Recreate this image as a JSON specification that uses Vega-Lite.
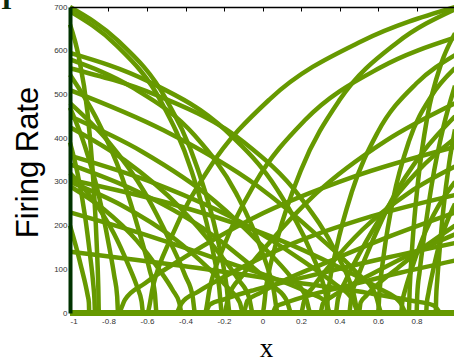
{
"$schema":"https://vega.github.io/schema/vega-lite/v6.json",
"width":385,"height":306,
"autosize":{"type":"none"},
"padding":{"left":70,"top":7,"right":0,"bottom":48},
"background":"white",
"config":{"view":{"stroke":"black","strokeWidth":1},"font":"Liberation Sans"},
"title":{"text":"I","anchor":"end","frame":"group","orient":"left","angle":0,"align":"left","font":"Liberation Serif","fontSize":28,"fontWeight":"bold","color":"#0a2a0a","baseline":"alphabetic","dy":2,"offset":0},
"data":{"values":[
{"c":"L1","x":1,"y":0},{"c":"L1","x":-0.17,"y":0},{"c":"L1","x":-0.187,"y":63},{"c":"L1","x":-0.236,"y":175},{"c":"L1","x":-0.336,"y":329},{"c":"L1","x":-0.502,"y":490},{"c":"L1","x":-0.751,"y":623},{"c":"L1","x":-1,"y":700},
{"c":"L2","x":1,"y":0},{"c":"L2","x":-0.21,"y":0},{"c":"L2","x":-0.226,"y":62},{"c":"L2","x":-0.273,"y":173},{"c":"L2","x":-0.368,"y":324},{"c":"L2","x":-0.526,"y":483},{"c":"L2","x":-0.763,"y":614},{"c":"L2","x":-1,"y":690},
{"c":"L3","x":1,"y":0},{"c":"L3","x":-0.85,"y":0},{"c":"L3","x":-0.853,"y":59},{"c":"L3","x":-0.862,"y":165},{"c":"L3","x":-0.88,"y":310},{"c":"L3","x":-0.91,"y":462},{"c":"L3","x":-0.955,"y":587},{"c":"L3","x":-1,"y":660},
{"c":"L4","x":1,"y":0},{"c":"L4","x":0.35,"y":0},{"c":"L4","x":0.323,"y":54},{"c":"L4","x":0.242,"y":149},{"c":"L4","x":0.08,"y":280},{"c":"L4","x":-0.19,"y":417},{"c":"L4","x":-0.595,"y":530},{"c":"L4","x":-1,"y":595},
{"c":"L5","x":1,"y":0},{"c":"L5","x":0.08,"y":0},{"c":"L5","x":0.058,"y":52},{"c":"L5","x":-0.006,"y":145},{"c":"L5","x":-0.136,"y":273},{"c":"L5","x":-0.352,"y":406},{"c":"L5","x":-0.676,"y":516},{"c":"L5","x":-1,"y":580},
{"c":"L6","x":1,"y":0},{"c":"L6","x":0.5,"y":0},{"c":"L6","x":0.47,"y":50},{"c":"L6","x":0.38,"y":140},{"c":"L6","x":0.2,"y":263},{"c":"L6","x":-0.1,"y":392},{"c":"L6","x":-0.55,"y":498},{"c":"L6","x":-1,"y":560},
{"c":"L7","x":1,"y":0},{"c":"L7","x":-0.55,"y":0},{"c":"L7","x":-0.559,"y":44},{"c":"L7","x":-0.586,"y":98},{"c":"L7","x":-0.64,"y":185},{"c":"L7","x":-0.73,"y":311},{"c":"L7","x":-0.865,"y":447},{"c":"L7","x":-1,"y":545},
{"c":"L8","x":1,"y":0},{"c":"L8","x":0.62,"y":0},{"c":"L8","x":0.588,"y":41},{"c":"L8","x":0.49,"y":92},{"c":"L8","x":0.296,"y":173},{"c":"L8","x":-0.028,"y":291},{"c":"L8","x":-0.514,"y":418},{"c":"L8","x":-1,"y":510},
{"c":"L9","x":1,"y":0},{"c":"L9","x":-0.35,"y":0},{"c":"L9","x":-0.363,"y":38},{"c":"L9","x":-0.402,"y":86},{"c":"L9","x":-0.48,"y":163},{"c":"L9","x":-0.61,"y":274},{"c":"L9","x":-0.805,"y":394},{"c":"L9","x":-1,"y":480},
{"c":"L10","x":1,"y":0},{"c":"L10","x":0.25,"y":0},{"c":"L10","x":0.225,"y":36},{"c":"L10","x":0.15,"y":81},{"c":"L10","x":0,"y":153},{"c":"L10","x":-0.25,"y":257},{"c":"L10","x":-0.625,"y":369},{"c":"L10","x":-1,"y":450},
{"c":"L11","x":1,"y":0},{"c":"L11","x":-0.05,"y":0},{"c":"L11","x":-0.069,"y":34},{"c":"L11","x":-0.126,"y":77},{"c":"L11","x":-0.24,"y":145},{"c":"L11","x":-0.43,"y":242},{"c":"L11","x":-0.715,"y":349},{"c":"L11","x":-1,"y":425},
{"c":"L12","x":1,"y":0},{"c":"L12","x":-0.87,"y":0},{"c":"L12","x":-0.873,"y":31},{"c":"L12","x":-0.88,"y":70},{"c":"L12","x":-0.896,"y":133},{"c":"L12","x":-0.922,"y":222},{"c":"L12","x":-0.961,"y":320},{"c":"L12","x":-1,"y":390},
{"c":"L13","x":1,"y":0},{"c":"L13","x":0.5,"y":0},{"c":"L13","x":0.47,"y":29},{"c":"L13","x":0.38,"y":65},{"c":"L13","x":0.2,"y":122},{"c":"L13","x":-0.1,"y":205},{"c":"L13","x":-0.55,"y":295},{"c":"L13","x":-1,"y":360},
{"c":"L14","x":1,"y":0},{"c":"L14","x":0.15,"y":0},{"c":"L14","x":0.127,"y":27},{"c":"L14","x":0.058,"y":61},{"c":"L14","x":-0.08,"y":116},{"c":"L14","x":-0.31,"y":194},{"c":"L14","x":-0.655,"y":279},{"c":"L14","x":-1,"y":340},
{"c":"L15","x":1,"y":0},{"c":"L15","x":-0.62,"y":0},{"c":"L15","x":-0.628,"y":26},{"c":"L15","x":-0.65,"y":58},{"c":"L15","x":-0.696,"y":109},{"c":"L15","x":-0.772,"y":182},{"c":"L15","x":-0.886,"y":262},{"c":"L15","x":-1,"y":320},
{"c":"L16","x":1,"y":0},{"c":"L16","x":0.75,"y":0},{"c":"L16","x":0.715,"y":24},{"c":"L16","x":0.61,"y":55},{"c":"L16","x":0.4,"y":104},{"c":"L16","x":0.05,"y":174},{"c":"L16","x":-0.475,"y":250},{"c":"L16","x":-1,"y":305},
{"c":"L17","x":1,"y":0},{"c":"L17","x":-0.42,"y":0},{"c":"L17","x":-0.432,"y":23},{"c":"L17","x":-0.466,"y":52},{"c":"L17","x":-0.536,"y":99},{"c":"L17","x":-0.652,"y":165},{"c":"L17","x":-0.826,"y":238},{"c":"L17","x":-1,"y":290},
{"c":"L18","x":1,"y":0},{"c":"L18","x":0.35,"y":0},{"c":"L18","x":0.323,"y":28},{"c":"L18","x":0.242,"y":46},{"c":"L18","x":0.08,"y":76},{"c":"L18","x":-0.19,"y":117},{"c":"L18","x":-0.595,"y":177},{"c":"L18","x":-1,"y":230},
{"c":"L19","x":1,"y":0},{"c":"L19","x":-0.9,"y":0},{"c":"L19","x":-0.902,"y":24},{"c":"L19","x":-0.908,"y":40},{"c":"L19","x":-0.92,"y":66},{"c":"L19","x":-0.94,"y":102},{"c":"L19","x":-0.97,"y":154},{"c":"L19","x":-1,"y":200},
{"c":"L20","x":1,"y":0},{"c":"L20","x":0.93,"y":0},{"c":"L20","x":0.891,"y":17},{"c":"L20","x":0.776,"y":28},{"c":"L20","x":0.544,"y":46},{"c":"L20","x":0.158,"y":71},{"c":"L20","x":-0.421,"y":108},{"c":"L20","x":-1,"y":140},
{"c":"L21","x":1,"y":0},{"c":"L21","x":-0.75,"y":0},{"c":"L21","x":-0.755,"y":38},{"c":"L21","x":-0.77,"y":85},{"c":"L21","x":-0.8,"y":160},{"c":"L21","x":-0.85,"y":268},{"c":"L21","x":-0.925,"y":385},{"c":"L21","x":-1,"y":470},
{"c":"L22","x":1,"y":0},{"c":"L22","x":-0.1,"y":0},{"c":"L22","x":-0.118,"y":24},{"c":"L22","x":-0.172,"y":54},{"c":"L22","x":-0.28,"y":102},{"c":"L22","x":-0.46,"y":171},{"c":"L22","x":-0.73,"y":246},{"c":"L22","x":-1,"y":300},
{"c":"R1","x":-1,"y":0},{"c":"R1","x":-0.6,"y":0},{"c":"R1","x":-0.568,"y":63},{"c":"R1","x":-0.472,"y":175},{"c":"R1","x":-0.28,"y":329},{"c":"R1","x":0.04,"y":490},{"c":"R1","x":0.52,"y":623},{"c":"R1","x":1,"y":700},
{"c":"R2","x":-1,"y":0},{"c":"R2","x":0,"y":0},{"c":"R2","x":0.02,"y":63},{"c":"R2","x":0.08,"y":174},{"c":"R2","x":0.2,"y":327},{"c":"R2","x":0.4,"y":487},{"c":"R2","x":0.7,"y":619},{"c":"R2","x":1,"y":695},
{"c":"R3","x":-1,"y":0},{"c":"R3","x":-0.3,"y":0},{"c":"R3","x":-0.274,"y":57},{"c":"R3","x":-0.196,"y":158},{"c":"R3","x":-0.04,"y":296},{"c":"R3","x":0.22,"y":441},{"c":"R3","x":0.61,"y":561},{"c":"R3","x":1,"y":630},
{"c":"R4","x":-1,"y":0},{"c":"R4","x":0.33,"y":0},{"c":"R4","x":0.343,"y":53},{"c":"R4","x":0.384,"y":148},{"c":"R4","x":0.464,"y":277},{"c":"R4","x":0.598,"y":413},{"c":"R4","x":0.799,"y":525},{"c":"R4","x":1,"y":590},
{"c":"R5","x":-1,"y":0},{"c":"R5","x":0.6,"y":0},{"c":"R5","x":0.608,"y":50},{"c":"R5","x":0.632,"y":140},{"c":"R5","x":0.68,"y":263},{"c":"R5","x":0.76,"y":392},{"c":"R5","x":0.88,"y":498},{"c":"R5","x":1,"y":560},
{"c":"R6","x":-1,"y":0},{"c":"R6","x":0.8,"y":0},{"c":"R6","x":0.804,"y":42},{"c":"R6","x":0.816,"y":94},{"c":"R6","x":0.84,"y":177},{"c":"R6","x":0.88,"y":296},{"c":"R6","x":0.94,"y":426},{"c":"R6","x":1,"y":520},
{"c":"R7","x":-1,"y":0},{"c":"R7","x":-0.2,"y":0},{"c":"R7","x":-0.176,"y":38},{"c":"R7","x":-0.104,"y":86},{"c":"R7","x":0.04,"y":163},{"c":"R7","x":0.28,"y":274},{"c":"R7","x":0.64,"y":394},{"c":"R7","x":1,"y":480},
{"c":"R8","x":-1,"y":0},{"c":"R8","x":0.45,"y":0},{"c":"R8","x":0.461,"y":36},{"c":"R8","x":0.494,"y":81},{"c":"R8","x":0.56,"y":153},{"c":"R8","x":0.67,"y":257},{"c":"R8","x":0.835,"y":369},{"c":"R8","x":1,"y":450},
{"c":"R9","x":-1,"y":0},{"c":"R9","x":0.9,"y":0},{"c":"R9","x":0.902,"y":34},{"c":"R9","x":0.908,"y":76},{"c":"R9","x":0.92,"y":143},{"c":"R9","x":0.94,"y":239},{"c":"R9","x":0.97,"y":344},{"c":"R9","x":1,"y":420},
{"c":"R10","x":-1,"y":0},{"c":"R10","x":-0.75,"y":0},{"c":"R10","x":-0.715,"y":30},{"c":"R10","x":-0.61,"y":68},{"c":"R10","x":-0.4,"y":129},{"c":"R10","x":-0.05,"y":217},{"c":"R10","x":0.475,"y":312},{"c":"R10","x":1,"y":380},
{"c":"R11","x":-1,"y":0},{"c":"R11","x":0.2,"y":0},{"c":"R11","x":0.216,"y":27},{"c":"R11","x":0.264,"y":60},{"c":"R11","x":0.36,"y":114},{"c":"R11","x":0.52,"y":191},{"c":"R11","x":0.76,"y":275},{"c":"R11","x":1,"y":335},
{"c":"R12","x":-1,"y":0},{"c":"R12","x":0.72,"y":0},{"c":"R12","x":0.726,"y":24},{"c":"R12","x":0.742,"y":54},{"c":"R12","x":0.776,"y":102},{"c":"R12","x":0.832,"y":171},{"c":"R12","x":0.916,"y":246},{"c":"R12","x":1,"y":300},
{"c":"R13","x":-1,"y":0},{"c":"R13","x":-0.45,"y":0},{"c":"R13","x":-0.421,"y":22},{"c":"R13","x":-0.334,"y":49},{"c":"R13","x":-0.16,"y":92},{"c":"R13","x":0.13,"y":154},{"c":"R13","x":0.565,"y":221},{"c":"R13","x":1,"y":270},
{"c":"R14","x":-1,"y":0},{"c":"R14","x":0.85,"y":0},{"c":"R14","x":0.853,"y":20},{"c":"R14","x":0.862,"y":45},{"c":"R14","x":0.88,"y":85},{"c":"R14","x":0.91,"y":143},{"c":"R14","x":0.955,"y":205},{"c":"R14","x":1,"y":250},
{"c":"R15","x":-1,"y":0},{"c":"R15","x":-0.1,"y":0},{"c":"R15","x":-0.078,"y":28},{"c":"R15","x":-0.012,"y":46},{"c":"R15","x":0.12,"y":76},{"c":"R15","x":0.34,"y":117},{"c":"R15","x":0.67,"y":177},{"c":"R15","x":1,"y":230},
{"c":"R16","x":-1,"y":0},{"c":"R16","x":0.5,"y":0},{"c":"R16","x":0.51,"y":24},{"c":"R16","x":0.54,"y":40},{"c":"R16","x":0.6,"y":66},{"c":"R16","x":0.7,"y":102},{"c":"R16","x":0.85,"y":154},{"c":"R16","x":1,"y":200},
{"c":"R17","x":-1,"y":0},{"c":"R17","x":0.3,"y":0},{"c":"R17","x":0.314,"y":22},{"c":"R17","x":0.356,"y":36},{"c":"R17","x":0.44,"y":59},{"c":"R17","x":0.58,"y":92},{"c":"R17","x":0.79,"y":139},{"c":"R17","x":1,"y":180},
{"c":"R18","x":-1,"y":0},{"c":"R18","x":-0.3,"y":0},{"c":"R18","x":-0.274,"y":19},{"c":"R18","x":-0.196,"y":32},{"c":"R18","x":-0.04,"y":53},{"c":"R18","x":0.22,"y":82},{"c":"R18","x":0.61,"y":123},{"c":"R18","x":1,"y":160},
{"c":"R19","x":-1,"y":0},{"c":"R19","x":0.05,"y":0},{"c":"R19","x":0.069,"y":14},{"c":"R19","x":0.126,"y":24},{"c":"R19","x":0.24,"y":40},{"c":"R19","x":0.43,"y":61},{"c":"R19","x":0.715,"y":92},{"c":"R19","x":1,"y":120},
{"c":"R20","x":-1,"y":0},{"c":"R20","x":0.76,"y":0},{"c":"R20","x":0.765,"y":58},{"c":"R20","x":0.779,"y":160},{"c":"R20","x":0.808,"y":301},{"c":"R20","x":0.856,"y":448},{"c":"R20","x":0.928,"y":570},{"c":"R20","x":1,"y":640},
{"c":"R21","x":-1,"y":0},{"c":"R21","x":0.38,"y":0},{"c":"R21","x":0.392,"y":32},{"c":"R21","x":0.43,"y":72},{"c":"R21","x":0.504,"y":136},{"c":"R21","x":0.628,"y":228},{"c":"R21","x":0.814,"y":328},{"c":"R21","x":1,"y":400}
]},
"layer":[
{"mark":{"type":"line","interpolate":"monotone","color":"#669900","strokeWidth":4.5,"clip":false},
 "encoding":{
  "x":{"field":"x","type":"quantitative","scale":{"domain":[-1,1],"nice":false,"zero":false},
   "axis":{"orient":"bottom","values":[-1,-0.8,-0.6,-0.4,-0.2,0,0.2,0.4,0.6,0.8],"labelExpr":"'' + datum.value","labelFontSize":8,"labelColor":"#333333","ticks":false,"labelPadding":4,"domain":false,"grid":false,"title":"x","titleFont":"Liberation Serif","titleFontSize":27,"titleFontWeight":"normal","titleColor":"black","titleX":196,"titleY":43,"titleBaseline":"alphabetic","titleAlign":"center"}},
  "y":{"field":"y","type":"quantitative","scale":{"domain":[0,700],"nice":false},
   "axis":{"values":[0,100,200,300,400,500,600,700],"labelFontSize":8,"labelColor":"#333333","ticks":false,"labelPadding":3,"domainColor":"#003300","domainWidth":4,"grid":false,"zindex":1,"title":"Firing Rate","titleFontSize":31,"titleFontWeight":"normal","titleColor":"black","titleAngle":-90,"titleX":-42,"titleY":155,"titleAlign":"center","titleBaseline":"middle"}},
  "detail":{"field":"c"}
 }},
{"mark":{"type":"point","opacity":0},
 "encoding":{
  "x":{"field":"x","type":"quantitative","scale":{"domain":[-1,1],"nice":false,"zero":false},
   "axis":{"orient":"top","labels":false,"title":null,"tickSize":-4,"tickColor":"black","domainColor":"black","domainWidth":1.5,"values":[-1,-0.8,-0.6,-0.4,-0.2,0,0.2,0.4,0.6,0.8,1],"grid":false,"zindex":1}}
 }}
],
"resolve":{"axis":{"x":"independent"}}
}
